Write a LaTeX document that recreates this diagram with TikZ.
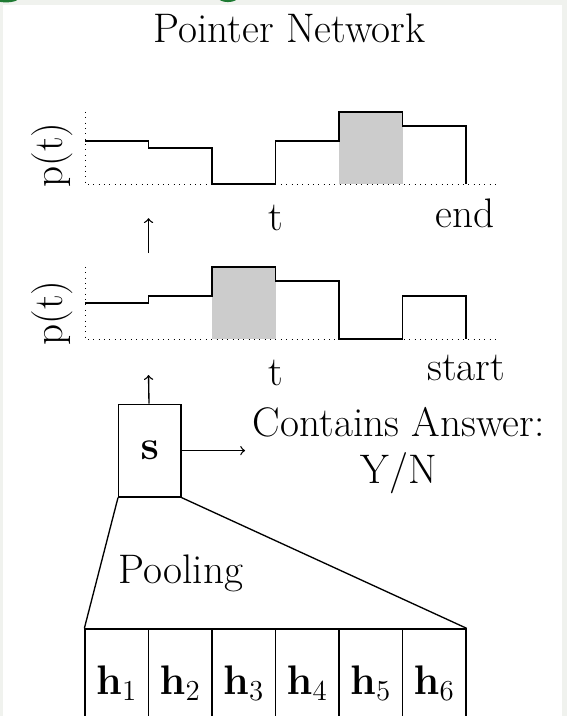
\RequirePackage{fix-cm}
\documentclass[tikz,border=0pt]{standalone}
\usepackage{amsmath,amssymb}
\usetikzlibrary{positioning}

\definecolor{pagegray}{HTML}{F0F2EE}
\definecolor{leafgreen}{HTML}{1E7A32}

\begin{document}
\begin{tikzpicture}[font=\fontsize{18.5}{21}\selectfont,
    cell/.style={draw, line width=0.6pt, minimum width=1cm, minimum height=1.7cm, inner sep=0pt},
    poolbox/.style={draw, line width=0.6pt, minimum width=0.98cm, minimum height=1.46cm, inner sep=0pt},
    curve/.style={line width=0.85pt},
    pick/.style={fill=gray!40},
    axis/.style={dotted},
    link/.style={->, line width=0.6pt},
    ylab/.style={rotate=90}]

  % page with its grey frame
  \useasboundingbox (-1.339,-1.370) rectangle (7.591,9.906);
  \clip (-1.339,-1.370) rectangle (7.591,9.906);
  \fill[pagegray] (-1.339,-1.370) rectangle (7.591,9.906);
  \fill[white] (-1.291,-1.370) rectangle (7.512,9.827);
  \fill[leafgreen] (-1.244,9.937) ellipse (0.2 and 0.07);
  \fill[leafgreen] (2.25,9.953) ellipse (0.16 and 0.08);

  \node[anchor=base] (title) at (3.22,9.24) {Pointer Network};

  % end pointer
  \begin{scope}[shift={(0,7.008)}, yscale=1.134]
    \fill[pick] (4,0) rectangle (5,1);
    \draw[axis] (0,1) -- (0,0) -- (6.5,0);
    \draw[curve] (0,0.6) -- (1,0.6) -- (1,0.5) -- (2,0.5) -- (2,0) -- (3,0) -- (3,0.6)
      -- (4,0.6) -- (4,1) -- (5,1) -- (5,0.8) -- (6,0.8) -- (6,0);
    \node[ylab] (pend) at (-0.52,0.40) {p(t)};
  \end{scope}
  \node[anchor=base] (tend) at (3,6.27) {t};
  \node[anchor=base] (end) at (5.99,6.33) {end};

  % start pointer
  \begin{scope}[shift={(0,4.567)}, yscale=1.134]
    \fill[pick] (2,0) rectangle (3,1);
    \draw[axis] (0,1) -- (0,0) -- (6.5,0);
    \draw[curve] (0,0.5) -- (1,0.5) -- (1,0.6) -- (2,0.6) -- (2,1) -- (3,1) -- (3,0.8)
      -- (4,0.8) -- (4,0) -- (5,0) -- (5,0.6) -- (6,0.6) -- (6,0);
    \node[ylab] (pstart) at (-0.52,0.36) {p(t)};
  \end{scope}
  \node[anchor=base] (tstart) at (3,3.84) {t};
  \node[anchor=base] (start) at (6,3.92) {start};

  \coordinate (up1) at (1,5.92);
  \coordinate (up2) at (1,6.47);
  \coordinate (up3) at (1,4.0);

  % pooled vector and answer flag
  \node[poolbox] (s) at (1.02,2.81) {$\mathbf{s}$};
  \node[right=1cm of s, align=center] (ans) {Contains Answer:\\Y/N};
  \draw[link] (s) -- (ans);
  \draw[link] (s) -- (up3);
  \draw[link] (up1) -- (up2);

  % hidden states
  \foreach \i in {1,...,6}
    \node[cell] (h\i) at (\i-0.5,-0.85) {$\mathbf{h}_{\i}$};
  \draw[line width=0.6pt] (s.south west) -- (h1.north west);
  \draw[line width=0.6pt] (s.south east) -- (h6.north east);
  \node[anchor=base] (pooling) at (1.51,0.71) {Pooling};
\end{tikzpicture}
\end{document}
